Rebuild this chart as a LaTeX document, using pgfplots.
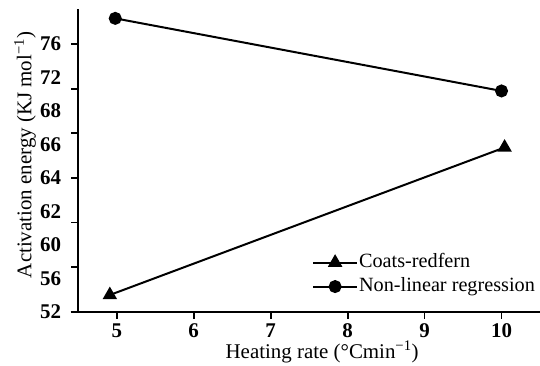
\documentclass[border=0pt]{standalone}
\usepackage{pgfplots}
\pgfplotsset{compat=1.18}
\usepackage{fontspec}
\setmainfont{Liberation Serif}
\begin{document}
\fontsize{21}{24}\selectfont
\begin{tikzpicture}
\begin{axis}[
  at={(78.3bp,54.3bp)}, anchor=south west,
  scale only axis, width=461.7bp, height=302.7bp,
  xmin=4.5, xmax=10.5, ymin=0, ymax=9.05,
  axis x line=bottom, axis y line=left,
  axis line style={line width=2.2bp, -},
  x axis line style={shorten <=-7.6bp},
  tick align=outside,
  major tick length=7bp,
  tick style={line width=1.8bp, black},
  xtick={5,6,7,8,9,10},
  ytick={0,1.33333,2.66667,4,5.33333,6.66667,8},
  yticklabels={},
  extra y ticks={0,1,2,3,4,5,6,7,8},
  extra y tick labels={52,56,60,62,64,66,68,72,76},
  extra y tick style={major tick length=0pt, tick style={draw=none}},
  /pgf/number format/assume math mode=true,
  ticklabel style={font=\fontsize{21}{24}\selectfont\bfseries},
  yticklabel style={xshift=-10bp},
  xticklabel style={inner ysep=1bp, yshift=-3.5bp, text depth=0pt},
  xlabel={Heating rate (°Cmin\textsuperscript{−1})},
  ylabel={Activation energy (KJ mol\textsuperscript{−1})},
  label style={font=\fontsize{21}{24}\selectfont},
  xlabel style={at={(axis description cs:0.528,0)}, anchor=base, inner ysep=0pt, yshift=-46.5bp},
  ylabel style={at={(axis description cs:-0.1154,0.518)}, anchor=center},
  clip=false,
  legend style={at={(axis description cs:0.506,0.196)}, anchor=north west,
    draw=none, fill=none, inner sep=0pt, row sep=4bp,
    font=\fontsize{20.3}{24}\selectfont,
    nodes={inner sep=1bp, text height=14bp, text depth=4bp}},
  legend cell align=left,
  legend image code/.code={\draw[mark repeat=2,mark phase=2,#1] plot coordinates {(0bp,0bp)(22bp,0bp)(44bp,0bp)};},
]
\addplot[black, line width=2bp, mark=triangle*, mark size=6.4bp, mark options={solid}] coordinates {(4.91,0.50) (10.04,4.91)};
\addlegendentry{Coats-redfern}
\addplot[black, line width=2bp, mark=*, mark size=5.5bp, mark options={solid}] coordinates {(4.98,8.77) (10.0,6.60)};
\addlegendentry{Non-linear regression}
\end{axis}
\pgfresetboundingbox
\path (0,0) rectangle (540bp,366bp);
\end{tikzpicture}
\end{document}
